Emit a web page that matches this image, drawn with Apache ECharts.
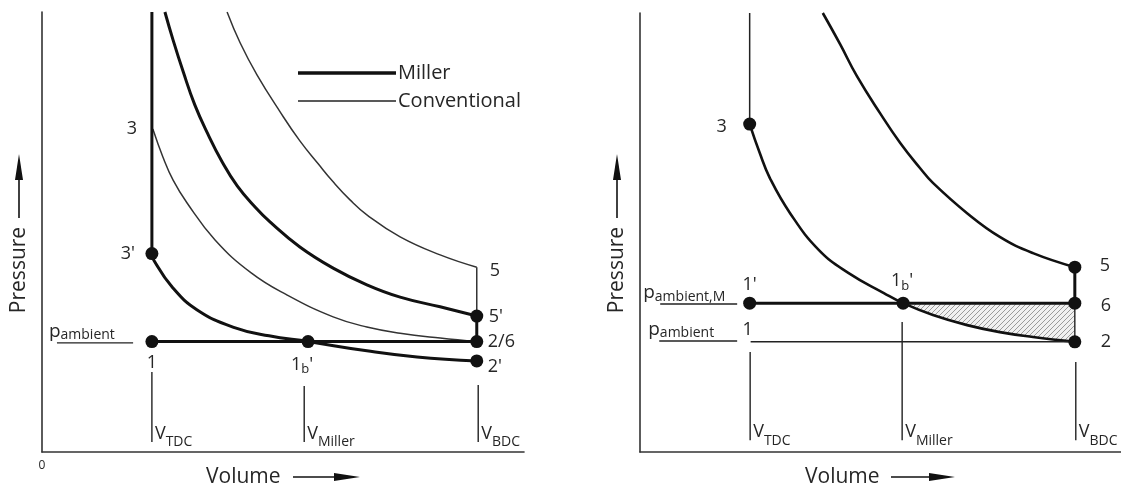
<!DOCTYPE html>
<html>
<head>
<meta charset="utf-8">
<script src="https://cdn.jsdelivr.net/npm/echarts@6/dist/echarts.min.js"></script>
<style>
  html, body { margin: 0; padding: 0; background: #fff; }
  #chart { width: 1121px; height: 488px; }
</style>
</head>
<body>
<div id="chart"></div>
<script>
// Both diagrams use arbitrary units: volume 0–10, pressure 0–10.
const V_TDC = 2.28, V_MILLER = 5.48, V_BDC = 9.02;
const P_AMB = 2.51, P_AMB_M = 3.39;

// ---- Left diagram: Miller vs. conventional cycle ----
const leftMillerExpansion = [[2.55,10.0],[2.72,9.36],[2.93,8.64],[3.17,7.89],[3.44,7.23],[3.73,6.61],[4.05,6.05],[4.42,5.57],[4.73,5.23],[5.35,4.66],[6.04,4.18],[6.74,3.80],[7.43,3.52],[8.26,3.30],[9.02,3.09]];
const leftConvExpansion = [[3.84,10.0],[4.11,9.30],[4.46,8.57],[4.94,7.73],[5.35,7.07],[5.73,6.55],[6.04,6.14],[6.39,5.73],[6.74,5.39],[7.43,4.89],[8.26,4.48],[9.02,4.20]];
const leftConvCompression = [[2.30,7.34],[2.51,6.70],[2.72,6.18],[3.01,5.66],[3.59,4.82],[4.34,4.07],[5.08,3.57],[6.04,3.07],[6.74,2.84],[7.43,2.70],[8.26,2.59],[9.02,2.51]];
const leftMillerCompression = [[2.28,4.51],[2.32,4.36],[2.70,3.75],[3.22,3.23],[3.96,2.84],[4.71,2.64],[5.52,2.51],[6.74,2.30],[7.78,2.16],[9.02,2.07]];
// state points: [label, volume, pressure]
const leftDots = [['1',2.28,2.51],["1b'",5.52,2.51],['2/6',9.02,2.51],["2'",9.02,2.07],["5'",9.02,3.09],["3'",2.28,4.51]];
const leftTags = [['3',2.28,7.34],['5',9.02,4.20]];
const leftVolumes = [['TDC',2.28,1.82],['Miller',5.44,1.50],['BDC',9.05,1.52]];

// ---- Right diagram: Miller cycle with raised intake pressure ----
const rightCompression = [[2.28,7.47],[2.49,6.81],[2.70,6.24],[3.12,5.44],[3.72,4.60],[4.33,4.08],[5.07,3.62],[5.47,3.39],[6.09,3.12],[6.80,2.89],[7.48,2.73],[8.17,2.62],[9.04,2.51]];
const rightExpansion = [[3.80,10.0],[4.16,9.29],[4.51,8.56],[4.99,7.72],[5.41,7.04],[5.82,6.47],[6.09,6.13],[6.80,5.44],[7.48,4.90],[8.17,4.53],[9.04,4.21]];
const rightHatch = [[5.47,3.39],[6.09,3.12],[6.80,2.89],[7.48,2.73],[8.17,2.62],[9.04,2.51]];
const rightDots = [['3',2.28,7.47],["1'",2.28,3.39],["1b'",5.47,3.39],['6',9.04,3.39],['5',9.04,4.21],['2',9.04,2.51]];
const rightTags = [['1',2.28,2.51]];
const rightVolumes = [['TDC',2.29,2.28],['Miller',5.45,2.96],['BDC',9.06,2.05]];

const FONT = '"Open Sans", sans-serif';
const INK = '#111';
const TXT = '#262626';

// label placement relative to each point (pixels)
const leftPlace = {
  '3': [-20, 0, 'center'], "3'": [-24, 0, 'center'], '1': [0, 21, 'center'],
  "1b'": [-6, 23, 'center'], '2/6': [11, 0, 'left'], "2'": [11, 6, 'left'],
  "5'": [12, 1, 'left'], '5': [13, 4, 'left']
};
const rightPlace = {
  '3': [-28, 3, 'center'], "1'": [0, -18, 'center'], "1b'": [-1, -22, 'center'],
  '5': [25, -1, 'left'], '6': [26, 3, 'left'], '2': [26, 0, 'left'], '1': [-2, -12, 'center']
};

const richSub = {
  b: { fontSize: 13, fontFamily: FONT, color: TXT, padding: [10, 0, 0, 0] },
  v: { fontSize: 18, fontFamily: FONT, color: TXT },
  s: { fontSize: 14, fontFamily: FONT, color: TXT, padding: [17, 0, 0, 0] },
  p: { fontSize: 19, fontFamily: FONT, color: TXT },
  a: { fontSize: 14, fontFamily: FONT, color: TXT, padding: [7, 0, 0, 0] }
};

function fmtPoint(name) {
  if (name === "1b'") return "1{b|b}'";
  return name;
}

function pointItems(pts, place) {
  return pts.map(p => {
    const pl = place[p[0]];
    return {
      value: [p[1], p[2]],
      name: p[0],
      label: {
        show: true, position: 'inside', offset: [pl[0], pl[1]], align: pl[2],
        verticalAlign: 'middle', formatter: fmtPoint(p[0]),
        fontSize: 18, fontFamily: FONT, color: TXT, rich: richSub
      }
    };
  });
}

function line(g, data, width, color, smooth, extra) {
  return Object.assign({
    type: 'line', xAxisIndex: g, yAxisIndex: g, data: data, symbol: 'none',
    smooth: smooth ? 0.45 : false,
    lineStyle: { width: width, color: color },
    silent: true, z: 3
  }, extra || {});
}

function dotSeries(g, pts, place) {
  return {
    type: 'scatter', xAxisIndex: g, yAxisIndex: g, symbolSize: 13,
    itemStyle: { color: INK, opacity: 1 }, z: 5, silent: true, data: pointItems(pts, place)
  };
}

const HIDDEN = { color: 'transparent', opacity: 1 };

function tagSeries(g, pts, place) {
  return {
    type: 'scatter', xAxisIndex: g, yAxisIndex: g, symbolSize: 0.1,
    itemStyle: HIDDEN, z: 5, silent: true, data: pointItems(pts, place)
  };
}

// vertical volume markers with their V labels
function volumeMarks(g, vols, bottom) {
  const out = [];
  vols.forEach(v => {
    out.push(line(g, [[v[1], bottom], [v[1], v[2]]], 1.4, '#222', false));
  });
  out.push({
    type: 'scatter', xAxisIndex: g, yAxisIndex: g, symbolSize: 0.1,
    itemStyle: HIDDEN, silent: true, z: 5,
    data: vols.map(v => ({
      value: [v[1], bottom],
      label: {
        show: true, position: 'inside', offset: [3, -8], align: 'left', verticalAlign: 'middle',
        formatter: '{v|V}{s|' + v[0] + '}', rich: richSub
      }
    }))
  });
  return out;
}

// ambient pressure captions with underline
function pressureCaption(g, x0, x1, p, sub, dx) {
  return [
    line(g, [[x0, p], [x1, p]], 1.4, '#222', false),
    {
      type: 'scatter', xAxisIndex: g, yAxisIndex: g, symbolSize: 0.1,
      itemStyle: HIDDEN, silent: true, z: 5,
      data: [{
        value: [x0, p],
        label: {
          show: true, position: 'inside', offset: [dx, -11], align: 'left', verticalAlign: 'middle',
          formatter: '{p|p}{a|' + sub + '}', rich: richSub
        }
      }]
    }
  ];
}

// diagonal hatch for the pumping-work area
const hatch = document.createElement('canvas');
hatch.width = 5; hatch.height = 5;
(function () {
  const c = hatch.getContext('2d');
  c.fillStyle = '#f0f0f0'; c.fillRect(0, 0, 5, 5);
  c.strokeStyle = '#9a9a9a'; c.lineWidth = 1;
  c.beginPath();
  c.moveTo(-1, 6); c.lineTo(6, -1);
  c.moveTo(-1, 1); c.lineTo(1, -1);
  c.moveTo(4, 6); c.lineTo(6, 4);
  c.stroke();
})();

const axisBase = (g) => ({
  type: 'value', gridIndex: g, min: 0, max: 10, interval: 10,
  axisLine: { show: true, onZero: false, lineStyle: { color: '#333', width: 1.6 } },
  axisTick: { show: false }, splitLine: { show: false },
  axisLabel: { show: false }
});

const xLeft = axisBase(0);
xLeft.axisLabel = { show: true, margin: 8, fontSize: 12, fontFamily: FONT, color: TXT,
  formatter: v => (v === 0 ? '0' : ''), align: 'center' };

const series = [
  // left diagram
  line(0, leftConvExpansion, 1.5, '#333', true),
  line(0, leftConvCompression, 1.5, '#333', true),
  line(0, [[V_BDC, 4.20], [V_BDC, 3.09]], 1.5, '#333', false),
  line(0, leftMillerExpansion, 3, INK, true),
  line(0, leftMillerCompression, 3, INK, true),
  line(0, [[V_TDC, 4.51], [V_TDC, 10]], 3, INK, false),
  line(0, [[V_TDC, P_AMB], [V_BDC, P_AMB]], 3, INK, false),
  line(0, [[V_BDC, 3.09], [V_BDC, P_AMB]], 3, INK, false),
  ...volumeMarks(0, leftVolumes, 0.23),
  ...pressureCaption(0, 0.31, 1.89, 2.48, 'ambient', -8),
  dotSeries(0, leftDots, leftPlace),
  tagSeries(0, leftTags, leftPlace),

  // right diagram
  line(1, rightHatch, 0, INK, true, {
    areaStyle: { origin: P_AMB_M, color: { image: hatch, repeat: 'repeat' }, opacity: 1 }, z: 2
  }),
  line(1, rightCompression, 2.6, INK, true),
  line(1, rightExpansion, 2.6, INK, true),
  line(1, [[V_TDC, 7.47], [V_TDC, 10]], 1.5, '#222', false),
  line(1, [[V_TDC, P_AMB_M], [9.04, P_AMB_M]], 3, INK, false),
  line(1, [[9.04, 4.21], [9.04, P_AMB_M]], 3, INK, false),
  line(1, [[9.04, P_AMB_M], [9.04, P_AMB]], 1.4, '#222', false),
  line(1, [[2.30, P_AMB], [9.04, P_AMB]], 1.4, '#222', false),
  ...volumeMarks(1, rightVolumes, 0.27),
  ...pressureCaption(1, 0.42, 2.02, 3.37, 'ambient,M', -17),
  ...pressureCaption(1, 0.40, 2.02, 2.53, 'ambient', -11),
  dotSeries(1, rightDots, rightPlace),
  tagSeries(1, rightTags, rightPlace)
];

// axis titles with arrows
function yTitle(cx) {
  return [
    { type: 'text', x: cx, y: 270, rotation: Math.PI / 2,
      style: { text: 'Pressure', fontSize: 21, fontFamily: FONT, fill: TXT,
        align: 'center', verticalAlign: 'middle', textAlign: 'center', textVerticalAlign: 'middle' } },
    { type: 'line', shape: { x1: cx, y1: 218, x2: cx, y2: 176 }, style: { stroke: INK, lineWidth: 1.6 } },
    { type: 'polygon', shape: { points: [[cx, 154], [cx - 4, 180], [cx + 4, 180]] }, style: { fill: INK } }
  ];
}
function xTitle(x0, s0, tip) {
  return [
    { type: 'text', x: x0, y: 477,
      style: { text: 'Volume', fontSize: 21, fontFamily: FONT, fill: TXT,
        align: 'left', verticalAlign: 'middle', textAlign: 'left', textVerticalAlign: 'middle' } },
    { type: 'line', shape: { x1: s0, y1: 477, x2: tip - 20, y2: 477 }, style: { stroke: INK, lineWidth: 1.6 } },
    { type: 'polygon', shape: { points: [[tip, 477], [tip - 26, 473], [tip - 26, 481]] }, style: { fill: INK } }
  ];
}

const legendItems = [
  { type: 'line', shape: { x1: 298, y1: 73, x2: 396, y2: 73 }, style: { stroke: INK, lineWidth: 3.4 } },
  { type: 'text', x: 398, y: 73, style: { text: 'Miller', fontSize: 20, fontFamily: FONT, fill: TXT,
      align: 'left', verticalAlign: 'middle', textAlign: 'left', textVerticalAlign: 'middle' } },
  { type: 'line', shape: { x1: 298, y1: 101, x2: 396, y2: 101 }, style: { stroke: '#222', lineWidth: 1.5 } },
  { type: 'text', x: 398, y: 101, style: { text: 'Conventional', fontSize: 20, fontFamily: FONT, fill: TXT,
      align: 'left', verticalAlign: 'middle', textAlign: 'left', textVerticalAlign: 'middle' } }
];

const chart = echarts.init(document.getElementById('chart'), null, { renderer: 'canvas' });
chart.setOption({
  animation: false,
  backgroundColor: '#fff',
  grid: [
    { left: 42, top: 12, width: 482, height: 440 },
    { left: 640, top: 13, width: 481, height: 439 }
  ],
  xAxis: [xLeft, axisBase(1)],
  yAxis: [axisBase(0), axisBase(1)],
  series: series,
  graphic: [...legendItems, ...yTitle(19), ...xTitle(206, 293, 360), ...yTitle(617), ...xTitle(805, 891, 955)]
});
</script>
</body>
</html>
